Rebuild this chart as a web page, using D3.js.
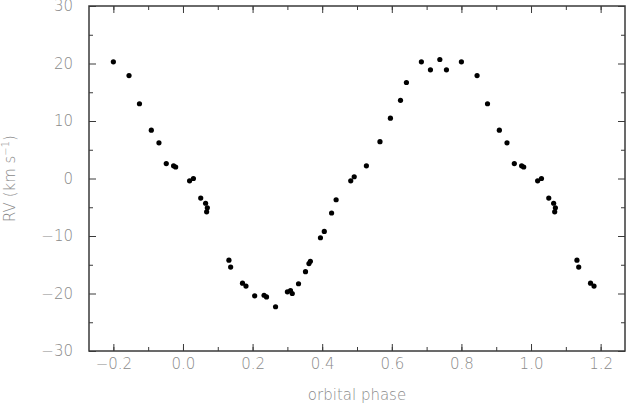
<!DOCTYPE html>
<html><head><meta charset="utf-8">
<script src="https://cdn.jsdelivr.net/npm/d3@7"></script>
<style>
html,body{margin:0;padding:0;background:#fff;}
text{font-family:"DejaVu Sans","Liberation Sans",sans-serif;font-weight:200;fill:#8a8a8a;}
</style></head>
<body><svg id="c" width="626" height="404"></svg>
<script>
// Base radial-velocity measurements (orbital phase 0..1, RV in km/s)
const phases = [0.019,0.030,0.051,0.065,0.070,0.068,0.132,0.137,0.171,0.181,0.206,0.233,0.240,0.266,
  0.300,0.309,0.314,0.332,0.352,0.362,0.366,0.395,0.406,0.427,0.440,0.482,0.492,0.527,0.566,0.596,
  0.625,0.642,0.685,0.711,0.738,0.757,0.800,0.845,0.875,0.909,0.931,0.952,0.973,0.979];
const rvs = [-0.4,0.0,-3.4,-4.3,-5.1,-5.8,-14.2,-15.4,-18.2,-18.7,-20.4,-20.3,-20.6,-22.3,
  -19.7,-19.5,-20.0,-18.3,-16.2,-14.8,-14.4,-10.3,-9.2,-6.0,-3.7,-0.4,0.3,2.2,6.4,10.5,
  13.6,16.7,20.3,18.9,20.7,18.9,20.3,17.9,13.0,8.4,6.2,2.6,2.2,2.0];
const xTicks = [-0.2,0.0,0.2,0.4,0.6,0.8,1.0,1.2];
const xTickLabels = ["\u22120.2","0.0","0.2","0.4","0.6","0.8","1.0","1.2"];
const yTicks = [-30,-20,-10,0,10,20,30];
const yTickLabels = ["\u221230","\u221220","\u221210","0","10","20","30"];
const xMinor = d3.range(-0.2,1.25,0.1).map(v=>+v.toFixed(1));
const yMinor = d3.range(-25,30,10);
const shownMin = -0.2, shownMax = 1.2;

// phase-folded points shown over -0.2..1.2
const pts = [];
phases.forEach((p,i)=>{
  [-1,0,1].forEach(s=>{const q=+(p+s).toFixed(3); if(q>=shownMin-1e-9 && q<=shownMax+1e-9) pts.push([q,rvs[i]]);});
});

const svg = d3.select("#c");
const L=89,R=625,T=6,B=351;
const x = d3.scaleLinear().domain([-0.27,1.27]).range([L,R]);
const y = d3.scaleLinear().domain([-30,30]).range([B,T]);
const frame="#3a3a3a";

// axes via d3 axis generators (ticks inward)
function styleAxis(g){g.select(".domain").remove();g.selectAll("line").attr("stroke",frame).attr("stroke-width",1);}
svg.append("g").attr("transform",`translate(0,${B})`)
  .call(d3.axisBottom(x).tickValues(xMinor).tickSize(-4).tickFormat(""))
  .call(styleAxis);
svg.append("g").attr("transform",`translate(0,${B})`)
  .call(d3.axisBottom(x).tickValues(xTicks).tickSize(-7).tickPadding(16).tickFormat((d,i)=>xTickLabels[i]))
  .call(styleAxis)
  .call(g=>g.selectAll("text").attr("font-size",15).attr("fill","#8a8a8a").attr("dy","0.1em").style("font-family",null));
svg.append("g").attr("transform",`translate(0,${T})`)
  .call(d3.axisTop(x).tickValues(xMinor).tickSize(-4).tickFormat("")).call(styleAxis);
svg.append("g").attr("transform",`translate(0,${T})`)
  .call(d3.axisTop(x).tickValues(xTicks).tickSize(-7).tickFormat("")).call(styleAxis);
svg.append("g").attr("transform",`translate(${L},0)`)
  .call(d3.axisLeft(y).tickValues(yMinor).tickSize(-4).tickFormat("")).call(styleAxis);
svg.append("g").attr("transform",`translate(${L},0)`)
  .call(d3.axisLeft(y).tickValues(yTicks).tickSize(-7).tickPadding(16).tickFormat((d,i)=>yTickLabels[i]))
  .call(styleAxis)
  .call(g=>g.selectAll("text").attr("font-size",15).attr("fill","#8a8a8a").style("font-family",null));
svg.append("g").attr("transform",`translate(${R},0)`)
  .call(d3.axisRight(y).tickValues(yMinor).tickSize(-4).tickFormat("")).call(styleAxis);
svg.append("g").attr("transform",`translate(${R},0)`)
  .call(d3.axisRight(y).tickValues(yTicks).tickSize(-7).tickFormat("")).call(styleAxis);

// frame
svg.append("rect").attr("x",L).attr("y",T).attr("width",R-L).attr("height",B-T)
  .attr("fill","none").attr("stroke",frame).attr("stroke-width",1.5);

// points
svg.append("g").selectAll("circle").data(pts).join("circle")
  .attr("cx",d=>x(d[0])).attr("cy",d=>y(d[1])).attr("r",2.6).attr("fill","#000");

// axis titles
svg.append("text").attr("x",(L+R)/2).attr("y",400).attr("text-anchor","middle")
  .attr("font-size",15).text("orbital phase");
const yl = svg.append("text").attr("transform",`translate(15,${(T+B)/2}) rotate(-90)`)
  .attr("text-anchor","middle").attr("font-size",15);
yl.append("tspan").text("RV (km s");
yl.append("tspan").attr("font-size",10).attr("dy",-6).text("\u22121");
yl.append("tspan").attr("dy",6).text(")");
</script></body></html>
